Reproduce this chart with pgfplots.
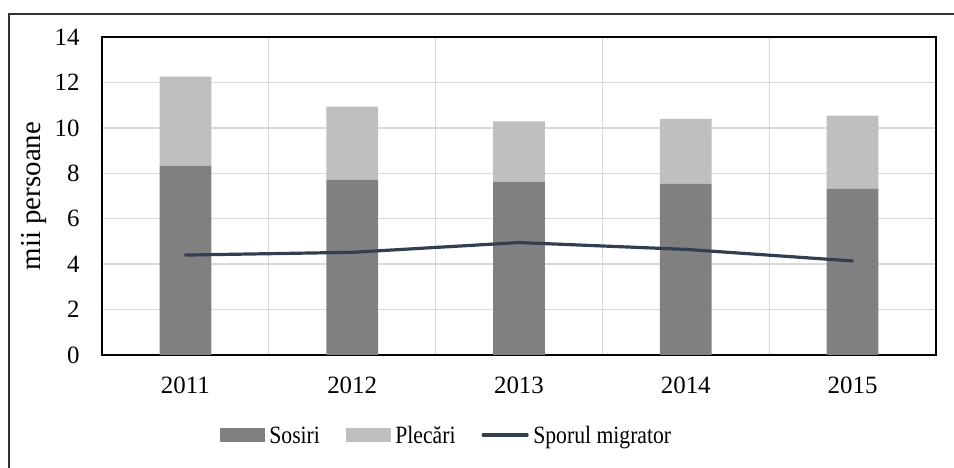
\documentclass[border=0pt]{standalone}
\usepackage{pgfplots}
\pgfplotsset{compat=1.18}
\usepackage{fontspec}
\setmainfont{Liberation Serif}
\newfontfamily\legfont{Liberation Serif}[FakeStretch=0.87]
\definecolor{sos}{HTML}{808080}
\definecolor{plec}{HTML}{BFBFBF}
\definecolor{spor}{HTML}{333F50}
\definecolor{gridc}{HTML}{D9D9D9}
\begin{document}
\fontsize{12}{14}\selectfont
\begin{tikzpicture}
\useasboundingbox (-51bp,-56.5bp) rectangle (426bp,177.5bp);
\draw[line width=1bp, black!80] (-46.5bp,-60bp) -- (-46.5bp,170.5bp) -- (430bp,170.5bp);
\begin{axis}[
  at={(0,0)}, anchor=south west,
  scale only axis, width=417bp, height=159bp,
  xmin=-0.5, xmax=4.5, ymin=0, ymax=14,
  ybar stacked, bar width=0.31,
  xtick={0,1,2,3,4}, xticklabels={2011,2012,2013,2014,2015},
  minor xtick={0.5,1.5,2.5,3.5},
  ytick={0,2,...,14},
  ymajorgrids, xminorgrids,
  major grid style={gridc, line width=0.65bp},
  minor grid style={gridc, line width=0.65bp},
  major tick length=0pt, minor tick length=0pt,
  axis line style={black, line width=0.7bp},
  /pgf/number format/assume math mode=true,
  tick label style={font=\fontsize{12.5}{15}\selectfont},
  yticklabel style={anchor=east, inner sep=0pt, xshift=-11bp},
  xticklabel style={anchor=north, inner sep=0pt, yshift=-11bp},
]
\addplot[fill=sos, draw=none] coordinates {(0,8.34) (1,7.72) (2,7.63) (3,7.53) (4,7.32)};
\addplot[fill=plec, draw=none] coordinates {(0,3.91) (1,3.21) (2,2.66) (3,2.86) (4,3.22)};
\end{axis}
\begin{axis}[
  at={(0,0)}, anchor=south west,
  scale only axis, width=417bp, height=159bp,
  xmin=-0.5, xmax=4.5, ymin=0, ymax=14,
  hide axis,
  legend columns=-1,
  legend style={draw=none, fill=none, inner sep=0pt, outer sep=0pt,
    at={(0.1415,-0.2516)}, anchor=west,
    /tikz/every odd column/.append style={column sep=2.3bp},
    /tikz/every even column/.append style={column sep=13bp},
    nodes={inner xsep=0pt, inner ysep=0pt, text height=9.5bp, text depth=1.3bp, font=\legfont\fontsize{12.5}{14}\selectfont}},
]
\addlegendimage{legend image code/.code={\fill[sos] (0bp,-3.2bp) rectangle (22bp,3.2bp);}}
\addlegendentry{Sosiri}
\addlegendimage{legend image code/.code={\fill[plec] (0bp,-3.2bp) rectangle (22bp,3.2bp);}}
\addlegendentry{Plecări}
\addplot[spor, line width=1.6bp, line cap=round, line join=round,
  legend image code/.code={\draw[spor, line width=1.6bp] (0bp,0bp) -- (22bp,0bp);}]
  coordinates {(0,4.40) (1,4.52) (2,4.95) (3,4.65) (4,4.14)};
\addlegendentry{Sporul migrator}
\end{axis}
\node[rotate=90, anchor=base, font=\fontsize{14.5}{16}\selectfont] at (-31bp,79.5bp) {mii persoane};
\end{tikzpicture}
\end{document}
